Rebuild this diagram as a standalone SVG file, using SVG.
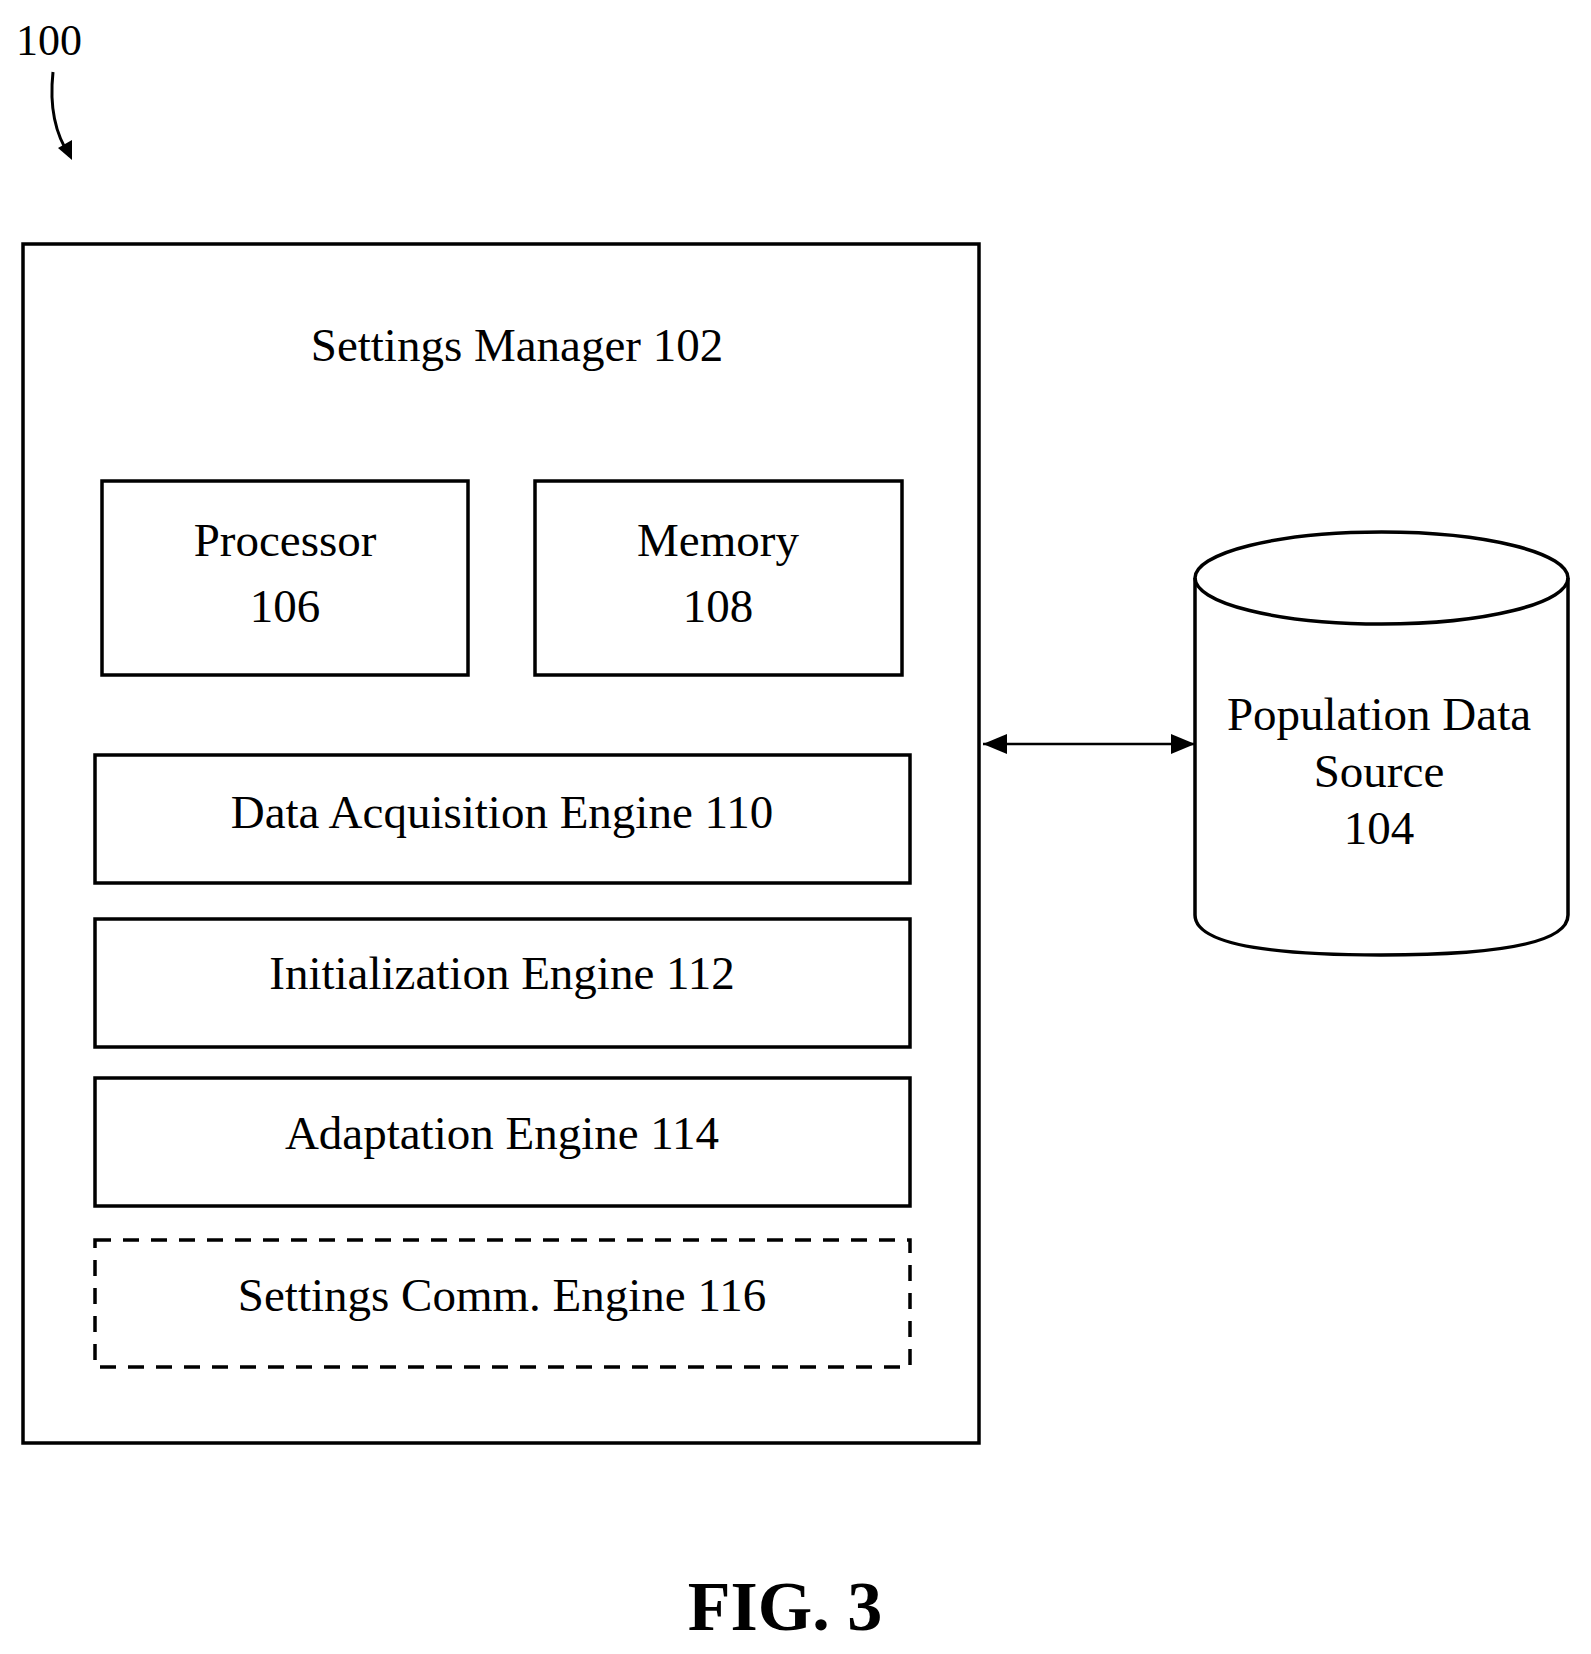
<svg xmlns="http://www.w3.org/2000/svg" width="1591" height="1654" viewBox="0 0 1591 1654">
<style>
.b{fill:#fff;stroke:#000;stroke-width:3.5}
.t{font-family:"Liberation Serif",serif;font-size:47px;text-anchor:middle;fill:#000}
</style>
<defs>
<marker id="ah" markerWidth="10" markerHeight="8" refX="10" refY="4" orient="auto-start-reverse" markerUnits="userSpaceOnUse" viewBox="0 0 10 8"><path d="M0,0L10,4L0,8z"/></marker>
<marker id="ah2" markerWidth="24" markerHeight="20" refX="24" refY="10" orient="auto-start-reverse" markerUnits="userSpaceOnUse"><path d="M0,0L24,10L0,20z"/></marker>
</defs>
<rect width="1591" height="1654" fill="#fff"/>
<g id="label100">
<text x="16" y="55" font-family="Liberation Serif,serif" font-size="44">100</text>
<path d="M53,72 C50,100 52,130 70,156" fill="none" stroke="#000" stroke-width="3"/>
<path d="M58,148 L72,160 L72,140 z"/>
</g>
<g id="settings-manager">
<rect class="b" x="23" y="244" width="956" height="1199"/>
<text class="t" x="517" y="361">Settings Manager 102</text>
</g>
<g id="processor"><rect class="b" x="102" y="481" width="366" height="194"/>
<text class="t" x="285" y="556">Processor</text><text class="t" x="285" y="622">106</text></g>
<g id="memory"><rect class="b" x="535" y="481" width="367" height="194"/>
<text class="t" x="718" y="556">Memory</text><text class="t" x="718" y="622">108</text></g>
<g id="dae"><rect class="b" x="95" y="755" width="815" height="128"/>
<text class="t" x="502" y="828">Data Acquisition Engine 110</text></g>
<g id="ie"><rect class="b" x="95" y="919" width="815" height="128"/>
<text class="t" x="502" y="989">Initialization Engine 112</text></g>
<g id="ae"><rect class="b" x="95" y="1078" width="815" height="128"/>
<text class="t" x="502" y="1149">Adaptation Engine 114</text></g>
<g id="sce"><rect class="b" x="95" y="1240" width="815" height="127" stroke-dasharray="16,12"/>
<text class="t" x="502" y="1311">Settings Comm. Engine 116</text></g>
<g id="population">
<path class="b" d="M1195,578 A186.5,46 0 0 1 1568,578 L1568,915 Q1568,955 1381,955 Q1195,955 1195,915 Z"/>
<path d="M1195,578 A186.5,46 0 0 0 1568,578" fill="none" stroke="#000" stroke-width="3.5"/>
<text class="t" x="1379" y="730">Population Data</text>
<text class="t" x="1379" y="787">Source</text>
<text class="t" x="1379" y="844">104</text>
</g>
<g id="connectors">
<line x1="983" y1="744" x2="1195" y2="744" stroke="#000" stroke-width="2.5" marker-start="url(#ah2)" marker-end="url(#ah2)"/>
</g>
<text x="785" y="1630" font-family="Liberation Serif,serif" font-size="70" font-weight="bold" text-anchor="middle">FIG. 3</text>
</svg>
